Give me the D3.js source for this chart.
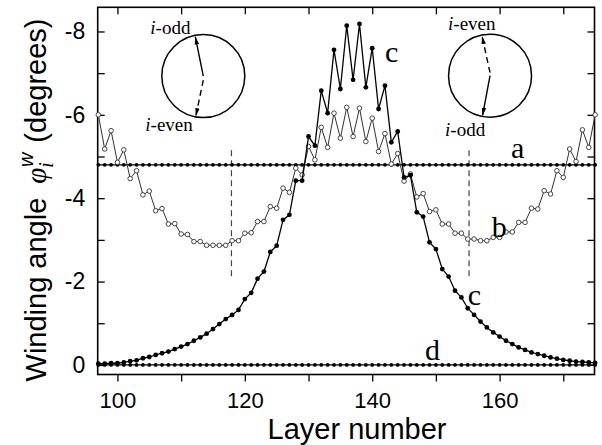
<!DOCTYPE html>
<html>
<head>
<meta charset="utf-8">
<style>
    body {
        margin: 0;
        background: #fff;
    }

    svg {
        display: block;
        background: #fff;
    }

    .tick text {
        font-family: 'Liberation Sans', Arial, sans-serif;
        font-size: 22px;
        fill: #000;
    }

    .y .tick text {
        font-size: 23px;
    }

    .tick line {
        stroke: #000;
        stroke-width: 1.3px;
    }

    .axis-title {
        font-family: 'Liberation Sans', Arial, sans-serif;
        font-size: 29px;
        fill: #000;
    }

    .curve-label {
        font-family: 'Liberation Serif', 'Times New Roman', serif;
        font-size: 30px;
        fill: #000;
    }

    .inset-text {
        font-family: 'Liberation Serif', 'Times New Roman', serif;
        font-size: 19px;
        fill: #000;
    }
</style>
</head>
<body>
<svg width="602" height="445"></svg>

<script src="https://d3js.org/d3.v7.min.js"></script>
<script>
    // layer numbers along the x axis
    const layers = d3.range(97, 176)

    // curve b (open circles), one value per layer 97..175
    const seriesB = [
        -6.00, -5.18, -5.62, -4.86, -5.16, -4.47, -4.66, -4.08, -4.17, -3.70,
        -3.75, -3.38, -3.39, -3.14, -3.13, -2.96, -2.96, -2.87, -2.87, -2.87,
        -2.87, -2.98, -2.98, -3.16, -3.17, -3.44, -3.44, -3.80, -3.76, -4.24,
        -4.14, -4.72, -4.56, -5.24, -4.92, -5.70, -5.22, -6.04, -5.44, -6.18,
        -5.48, -6.16, -5.36, -5.92, -5.12, -5.55, -4.82, -5.07, -4.41, -4.58,
        -4.03, -4.11, -3.68, -3.72, -3.38, -3.38, -3.16, -3.16, -3.02, -3.02,
        -2.98, -2.98, -3.06, -3.06, -3.19, -3.19, -3.42, -3.42, -3.76, -3.74,
        -4.18, -4.10, -4.66, -4.50, -5.18, -4.88, -5.64, -5.22, -6.00
    ]

    // curve c (filled circles), one value per layer 97..175
    const seriesC = [
        -0.03, -0.03, -0.04, -0.04, -0.06, -0.09, -0.11, -0.16, -0.19, -0.24,
        -0.28, -0.32, -0.38, -0.44, -0.50, -0.58, -0.66, -0.75, -0.86, -0.98,
        -1.10, -1.20, -1.32, -1.58, -1.73, -2.07, -2.24, -2.71, -2.86, -3.48,
        -3.60, -4.42, -4.42, -5.48, -5.26, -6.58, -6.04, -7.56, -6.62, -8.14,
        -6.84, -8.18, -6.66, -7.60, -6.14, -6.70, -5.34, -5.60, -4.50, -4.55,
        -3.66, -3.56, -2.94, -2.78, -2.30, -2.12, -1.78, -1.62, -1.36, -1.20,
        -1.04, -0.90, -0.78, -0.68, -0.58, -0.50, -0.42, -0.36, -0.30, -0.26,
        -0.22, -0.18, -0.15, -0.12, -0.10, -0.08, -0.07, -0.06, -0.05
    ]

    // flat curves a and d
    const levelA = -4.8
    const levelD = 0

    const xTicks = [100, 110, 120, 130, 140, 150, 160, 170]
    const xTickLabels = [100, 120, 140, 160]
    const yTicks = [0, -1, -2, -3, -4, -5, -6, -7, -8]
    const yTickLabels = [0, -2, -4, -6, -8]

    // vertical dashed guides
    const guideLayers = [117.9, 155.2]
    const guideSpan = [-5.15, -2.1]

    const curveLabels = [
        {text: "a", layer: 161.8, value: -4.96},
        {text: "b", layer: 158.75, value: -3.07},
        {text: "c", layer: 142.0, value: -7.27},
        {text: "c", layer: 155.0, value: -1.44},
        {text: "d", layer: 148.3, value: -0.12}
    ]

    // little circle sketches at the top
    const insets = [
        {layer: 113.48, value: -6.93,
         top: "i-odd", bottom: "i-even", topDashed: false},
        {layer: 158.5, value: -6.94,
         top: "i-even", bottom: "i-odd", topDashed: true}
    ]

    let svg = d3.select("svg")

    let frame = {left: 97.7, right: 594.5, top: 7.3, bottom: 374.5}

    let x = d3.scaleLinear()
        .domain([96.9, 174.9])
        .range([frame.left, frame.right])

    let y = d3.scaleLinear()
        .domain([0.23, -8.58])
        .range([frame.bottom, frame.top])

    // axes
    svg.append("g")
        .attr("class", "x axis")
        .attr("transform", `translate(0, ${frame.bottom})`)
        .call(d3.axisBottom(x)
            .tickValues(xTicks)
            .tickSize(7)
            .tickPadding(11)
            .tickFormat(d => xTickLabels.includes(d) ? d : ""))
        .call(g => g.select(".domain").remove())

    svg.append("g")
        .attr("transform", `translate(0, ${frame.top})`)
        .call(d3.axisTop(x)
            .tickValues(xTicks)
            .tickSize(-7)
            .tickFormat(""))
        .call(g => g.select(".domain").remove())

    svg.append("g")
        .attr("class", "y axis")
        .attr("transform", `translate(${frame.left}, 0)`)
        .call(d3.axisLeft(y)
            .tickValues(yTicks)
            .tickSize(-7)
            .tickPadding(12.5)
            .tickFormat(d => yTickLabels.includes(d) ? d : ""))
        .call(g => g.select(".domain").remove())

    svg.append("g")
        .attr("transform", `translate(${frame.right}, 0)`)
        .call(d3.axisRight(y)
            .tickValues(yTicks)
            .tickSize(-7)
            .tickFormat(""))
        .call(g => g.select(".domain").remove())

    svg.selectAll(".tick text").text(function () {
        return this.textContent.replace("\u2212", "-")
    })

    svg.append("rect")
        .attr("x", frame.left)
        .attr("y", frame.top)
        .attr("width", frame.right - frame.left)
        .attr("height", frame.bottom - frame.top)
        .attr("fill", "none")
        .attr("stroke", "#000")
        .attr("stroke-width", 1.6)

    // dashed guides
    svg.append("g")
        .selectAll("line")
        .data(guideLayers)
        .join("line")
        .attr("x1", d => x(d))
        .attr("x2", d => x(d))
        .attr("y1", y(guideSpan[0]))
        .attr("y2", y(guideSpan[1]))
        .attr("stroke", "#444")
        .attr("stroke-width", 1.2)
        .attr("stroke-dasharray", "6,4")

    let line = d3.line()
        .x(d => x(d[0]))
        .y(d => y(d[1]))

    // a and d
    for (let level of [levelA, levelD]) {
        let pts = layers.map(l => [l, level])
        svg.append("path")
            .attr("d", line(pts))
            .attr("fill", "none")
            .attr("stroke", "#000")
            .attr("stroke-width", 1.3)
        svg.append("g")
            .selectAll("circle")
            .data(pts)
            .join("circle")
            .attr("cx", d => x(d[0]))
            .attr("cy", d => y(d[1]))
            .attr("r", 1.9)
            .attr("fill", "#000")
    }

    // b
    let ptsB = layers.map((l, i) => [l, seriesB[i]])
    svg.append("path")
        .attr("d", line(ptsB))
        .attr("fill", "none")
        .attr("stroke", "#333")
        .attr("stroke-width", 1)
    svg.append("g")
        .selectAll("circle")
        .data(ptsB)
        .join("circle")
        .attr("cx", d => x(d[0]))
        .attr("cy", d => y(d[1]))
        .attr("r", 2.3)
        .attr("fill", "#fff")
        .attr("stroke", "#333")
        .attr("stroke-width", 0.9)

    // c
    let ptsC = layers.map((l, i) => [l, seriesC[i]])
    svg.append("path")
        .attr("d", line(ptsC))
        .attr("fill", "none")
        .attr("stroke", "#000")
        .attr("stroke-width", 1.3)
    svg.append("g")
        .selectAll("circle")
        .data(ptsC)
        .join("circle")
        .attr("cx", d => x(d[0]))
        .attr("cy", d => y(d[1]))
        .attr("r", 2.4)
        .attr("fill", "#000")

    // curve letters
    svg.append("g")
        .selectAll("text")
        .data(curveLabels)
        .join("text")
        .attr("class", "curve-label")
        .attr("x", d => x(d.layer))
        .attr("y", d => y(d.value))
        .text(d => d.text)

    // insets
    svg.append("defs").append("marker")
        .attr("id", "head")
        .attr("viewBox", "0 -3 8 6")
        .attr("refX", 8)
        .attr("refY", 0)
        .attr("markerWidth", 8)
        .attr("markerHeight", 6)
        .attr("markerUnits", "userSpaceOnUse")
        .attr("orient", "auto")
        .append("path")
        .attr("d", "M0,-2.2L8,0L0,2.2Z")
        .attr("fill", "#000")

    let radius = 41.5

    insets.forEach(ins => {
        let cx = x(ins.layer)
        let cy = y(ins.value)
        let g = svg.append("g").attr("transform", `translate(${cx}, ${cy})`)

        g.append("circle")
            .attr("r", radius)
            .attr("fill", "none")
            .attr("stroke", "#000")
            .attr("stroke-width", 1.5)

        // upward arrow and downward arrow, both leaning a bit left
        let up = {x2: -8, y2: -39.5, dashed: ins.topDashed}
        let down = {x2: -7.5, y2: 40, dashed: !ins.topDashed}

        for (let a of [up, down]) {
            let startY = a.dashed ? (a.y2 < 0 ? -3 : 4) : 0
            g.append("line")
                .attr("x1", 0)
                .attr("y1", startY)
                .attr("x2", a.x2)
                .attr("y2", a.y2)
                .attr("stroke", "#000")
                .attr("stroke-width", 1.4)
                .attr("stroke-dasharray", a.dashed ? "6,4" : null)
                .attr("marker-end", "url(#head)")
        }

        let topText = g.append("text")
            .attr("class", "inset-text")
            .attr("x", ins.topDashed ? -42 : -53)
            .attr("y", ins.topDashed ? -46 : -42)
        topText.append("tspan").attr("font-style", "italic").text(ins.top.slice(0, 1))
        topText.append("tspan").text(ins.top.slice(1))

        let botText = g.append("text")
            .attr("class", "inset-text")
            .attr("x", ins.topDashed ? -45 : -58)
            .attr("y", ins.topDashed ? 60 : 55)
        botText.append("tspan").attr("font-style", "italic").text(ins.bottom.slice(0, 1))
        botText.append("tspan").text(ins.bottom.slice(1))
    })

    // axis titles
    svg.append("text")
        .attr("class", "axis-title")
        .attr("x", 357)
        .attr("y", 439)
        .attr("text-anchor", "middle")
        .text("Layer number")

    let yTitle = svg.append("text")
        .attr("class", "axis-title")
        .attr("font-size", "30px")
        .attr("transform", "translate(46, 200) rotate(-90)")
        .attr("text-anchor", "middle")

    yTitle.append("tspan").text("Winding angle")
    yTitle.append("tspan")
        .attr("dx", 14)
        .attr("font-family", "'Liberation Serif', serif")
        .attr("font-style", "italic")
        .text("\u03c6")
    yTitle.append("tspan")
        .attr("font-family", "'Liberation Serif', serif")
        .attr("font-style", "italic")
        .attr("font-size", "20px")
        .attr("dy", 7)
        .text("i")
    yTitle.append("tspan")
        .attr("font-style", "italic")
        .attr("font-size", "20px")
        .attr("dx", -5)
        .attr("dy", -20)
        .text("w")
    yTitle.append("tspan")
        .attr("dx", 10)
        .attr("dy", 13)
        .text("(degrees)")
</script>
</body>
</html>
